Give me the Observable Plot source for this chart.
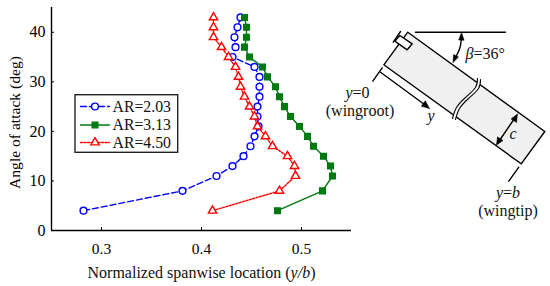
<!DOCTYPE html>
<html><head><meta charset="utf-8">
<script src="https://cdn.jsdelivr.net/npm/d3@7"></script>
<script src="https://cdn.jsdelivr.net/npm/@observablehq/plot@0.6"></script>
<style>html,body{margin:0;padding:0;background:#fff}svg{display:block}</style>
</head><body><div id="chart"></div>
<script>
const FONT = '"Liberation Serif", serif';
// Chart data
const alpha   = [4,8,11,13,15,17,19,21,23,25,27,29,31,33,35,37,39,41,43];
const ar203   = [.282,.381,.415,.431,.442,.449,.453,.457,.456,.456,.458,.458,.458,.453,.431,.434,.433,.436,.439];
const ar313   = [.476,.521,.531,.529,.522,.512,.506,.498,.489,.483,.478,.474,.466,.461,.448,.443,.445,.445,.443];
const ar450   = [.411,.478,.494,.493,.486,.471,.464,.456,.453,.448,.443,.439,.437,.434,.427,.420,.412,.412,.412];
const xTicks  = [.3,.4,.5];
const yTicks  = [0,10,20,30,40];
const seriesNames = ["AR=2.03","AR=3.13","AR=4.50"];
const seriesColors = ["#0000ff","#007a10","#ff0000"];

// Scale geometry: page pixels <-> data, used for the schematic and legend
const X = p => .25 + (p - 51) / 1000;
const Y = p => (230 - p) / 223 * 45;
const P = pts => pts.map(([a, b]) => ({x: X(a), y: Y(b)}));

// Wing schematic (page-space outline points)
const wing = [[407.3,31.7],[383.3,64.3],[520.7,163.3],[544.3,131],[407.3,31.7]];
const mount = [[399.3,35],[411.7,43.3],[406.7,49.3],[394.3,40.7],[399.3,35]];
const breakA = [[477,78],[475,87],[465,97],[456,107],[452,118]];
const breakB = [[480,79],[478,88],[468,98],[459,108],[455,119]];
const breakMid = [[478.5,78.5],[476.5,87.5],[466.5,97.5],[457.5,107.5],[453.5,118.5]];
const plainLines = [
  [[415,31.7],[505,31.7]],
  [[400,31],[392.7,41.7]],
  [[381.7,67.3],[372.3,80.7]],
  [[380,71.7],[424,104]],
  [[518.3,166.7],[508.3,180.7]],
  [[516,115],[497,143]]
];
const betaArc = [[461,36],[459.5,47],[455,57]];
const heads = [
  [[461,32],[458.2,39.5],[463.6,39.8]],
  [[452.5,62],[453,54],[458,56.5]],
  [[429,108],[420.8,105.7],[424.8,100.2]],
  [[517,113.5],[510.5,118.5],[516,122]],
  [[496,144.5],[497,136.3],[502.5,140]]
];
const legendBox = {x1:75,x2:177.7,y1:94.7,y2:152.3};
const legendRows = [106,124.5,142];

const cw = document.createElement("canvas").getContext("2d");
function runs(x, y, parts, size, anchor) {
  const w = t => { cw.font = `${t[1] ? "italic " : ""}${size}px "Liberation Serif"`; return cw.measureText(t[0]).width; };
  const total = d3.sum(parts, w);
  let c = anchor === "middle" ? x - total / 2 : x;
  return parts.map(t => { const o = {text: t[0], x: X(c), y: Y(y), italic: !!t[1]}; c += w(t); return o; });
}
const labels = [
  ...runs(201, 272, [["Normalized spanwise location (",0],["y/b",1],[")",0]], 16, "middle"),
  ...runs(357, 92.5, [["y",1],["=0",0]], 16, "middle"),
  ...runs(359.5, 110.5, [["(wingroot)",0]], 16, "middle"),
  ...runs(427, 115, [["y",1]], 16, "start"),
  ...runs(465, 53, [["β",1],["=36°",0]], 16, "start"),
  ...runs(509, 133, [["c",1]], 16, "start"),
  ...runs(507.5, 192.5, [["y",1],["=",0],["b",1]], 16, "middle"),
  ...runs(507.5, 210.5, [["(wingtip)",0]], 16, "middle")
];
const legendLabels = legendRows.flatMap((r, i) => runs(112, r, [[seriesNames[i],0]], 15.8, "start"));

const table = (v) => alpha.map((a, i) => ({x: v[i], y: a}));
const series = [
  {d: table(ar203), c: seriesColors[0], dash: "6,3", sym: "circle", r: 3.4, fill: "white"},
  {d: table(ar313), c: seriesColors[1], dash: null, sym: "square", r: 3.2, fill: seriesColors[1]},
  {d: table(ar450), c: seriesColors[2], dash: "2,1.5", sym: "triangle", r: 3.1, fill: "white"}
];

const marks = [];
const polyline = (pts, o = {}) => Plot.line(P(pts), {x: "x", y: "y", stroke: "black", strokeWidth: 1.4, curve: "linear", ...o});

// Schematic
marks.push(polyline(wing, {fill: "#f0f0f0"}));
marks.push(polyline(breakMid, {stroke: "white", strokeWidth: 3.6, curve: "natural"}));
marks.push(polyline(breakA, {curve: "natural", strokeWidth: 1.1}));
marks.push(polyline(breakB, {curve: "natural", strokeWidth: 1.1}));
marks.push(polyline(mount, {fill: "white"}));
plainLines.forEach(l => marks.push(polyline(l)));
marks.push(polyline(betaArc, {curve: "natural", strokeWidth: 1.4}));
heads.forEach(h => marks.push(polyline([...h, h[0]], {fill: "black", strokeWidth: .5})));

// Axes
marks.push(Plot.ruleX([.25], {y1: 0, y2: 45, stroke: "black", strokeWidth: 1.4}));
marks.push(Plot.ruleY([0], {x1: .25, x2: .55, stroke: "black", strokeWidth: 1.4}));
marks.push(Plot.axisX({ticks: xTicks, tickFormat: d3.format(".1f"), tickSize: -3, tickPadding: 15, stroke: "black", label: null, fontSize: 15.5, fill: "black"}));
marks.push(Plot.axisY({ticks: yTicks, tickSize: -3, tickPadding: 9, stroke: "black", label: null, fontSize: 16, fill: "black"}));
marks.push(Plot.text(["Angle of attack (deg)"], {x: X(14), y: Y(122), text: d => d, rotate: -90, fontSize: 15.6, fill: "black"}));

// Series
for (const s of series) {
  marks.push(Plot.line(s.d, {x: "x", y: "y", stroke: s.c, strokeWidth: 1.4, strokeDasharray: s.dash}));
  marks.push(Plot.dot(s.d, {x: "x", y: "y", symbol: s.sym, r: s.r, stroke: s.c, strokeWidth: 1.4, fill: s.fill}));
}

// Legend
marks.push(Plot.rect([legendBox], {x1: d => X(d.x1), x2: d => X(d.x2), y1: d => Y(d.y1), y2: d => Y(d.y2), fill: "white", stroke: "#222", strokeWidth: 1.4}));
series.forEach((s, i) => {
  const r = legendRows[i];
  marks.push(Plot.line(P([[80,r],[109,r]]), {x: "x", y: "y", stroke: s.c, strokeWidth: 1.4, strokeDasharray: s.dash}));
  marks.push(Plot.dot(P([[94.5,r]]), {x: "x", y: "y", symbol: s.sym, r: s.r, stroke: s.c, strokeWidth: 1.4, fill: s.fill}));
});

// Text fragments
const textMarks = (rows, size) => [true, false].map(italic =>
  Plot.text(rows.filter(d => d.italic === italic), {x: "x", y: "y", text: "text", textAnchor: "start", fontSize: size, fontStyle: italic ? "italic" : "normal", fill: "#111"}));
marks.push(...textMarks(labels, 16), ...textMarks(legendLabels, 15.8));

const chart = Plot.plot({
  width: 550, height: 286,
  marginLeft: 51, marginRight: 199, marginTop: 7, marginBottom: 56,
  style: {fontFamily: FONT, background: "white"},
  x: {domain: [.25,.55], label: null},
  y: {domain: [0,45], label: null},
  marks
});
document.getElementById("chart").append(chart);
</script></body></html>
